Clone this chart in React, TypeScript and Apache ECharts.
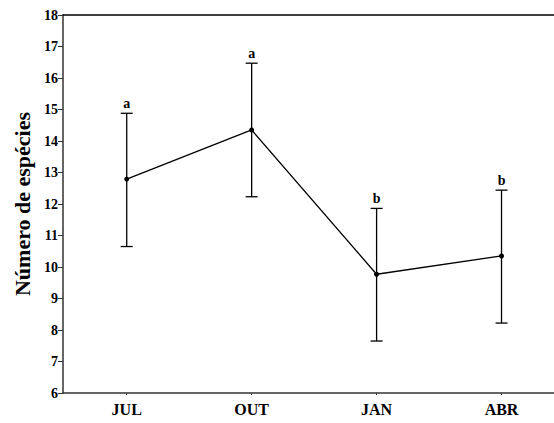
import React, { useEffect, useRef } from "react";
import * as echarts from "echarts";

const categories = ["JUL", "OUT", "JAN", "ABR"];
const means = [12.79, 14.35, 9.77, 10.35];
const upper = [14.88, 16.47, 11.86, 12.44];
const lower = [10.65, 12.23, 7.65, 8.22];
const letters = ["a", "a", "b", "b"];
const yTicks = [6, 7, 8, 9, 10, 11, 12, 13, 14, 15, 16, 17, 18];

const FONT = "'Liberation Serif', 'Times New Roman', serif";

export default function App() {
  const ref = useRef<HTMLDivElement>(null);
  useEffect(() => {
    if (!ref.current) return;
    const chart = echarts.init(ref.current, undefined, { renderer: "svg" });
    const xs = categories.map((_, i) => i + 1);
    const errData = xs.map((x, i) => [x, lower[i], upper[i], i]);
    chart.setOption({
      animation: false,
      grid: { left: 63, top: 15, right: 0, bottom: 30 },
      xAxis: [
        {
          type: "value",
          min: 0.49,
          max: 4.42,
          interval: 1,
          splitLine: { show: false },
          axisLine: { show: true, lineStyle: { color: "#333", width: 1.5 } },
          axisTick: { show: true, length: 2, lineStyle: { color: "#333" }, customValues: xs },
          axisLabel: {
            customValues: xs,
            formatter: (v: number) => categories[Math.round(v) - 1] ?? "",
            color: "#000",
            fontFamily: FONT,
            fontWeight: "bold",
            fontSize: 16,
            margin: 8,
          },
        },
        {
          type: "value",
          position: "top",
          min: 0.49,
          max: 4.42,
          splitLine: { show: false },
          axisLine: { show: true, onZero: false, lineStyle: { color: "#000", width: 1.5 } },
          axisTick: { show: false },
          axisLabel: { show: false },
        },
      ],
      yAxis: {
        type: "value",
        min: 6,
        max: 18,
        interval: 1,
        splitLine: { show: false },
        axisLine: { show: true, lineStyle: { color: "#333", width: 1.5 } },
        axisTick: { show: true, length: 5, lineStyle: { color: "#333" } },
        axisLabel: {
          color: "#000",
          fontFamily: FONT,
          fontWeight: "bold",
          fontSize: 14,
          margin: 5,
          formatter: (v: number) => (yTicks.includes(v) ? String(v) : ""),
        },
        name: "Número de espécies",
        nameLocation: "middle",
        nameGap: 30,
        nameTextStyle: { color: "#000", fontFamily: FONT, fontWeight: "bold", fontSize: 22 },
      },
      series: [
        {
          type: "custom",
          xAxisIndex: 0,
          data: errData,
          renderItem: (params: any, api: any) => {
            const x = api.value(0);
            const lo = api.coord([x, api.value(1)]);
            const hi = api.coord([x, api.value(2)]);
            const idx = api.value(3);
            const cap = 6;
            const style = { stroke: "#000", lineWidth: 1.3 };
            return {
              type: "group",
              children: [
                { type: "line", shape: { x1: hi[0], y1: hi[1], x2: lo[0], y2: lo[1] }, style },
                { type: "line", shape: { x1: hi[0] - cap, y1: hi[1], x2: hi[0] + cap, y2: hi[1] }, style },
                { type: "line", shape: { x1: lo[0] - cap, y1: lo[1], x2: lo[0] + cap, y2: lo[1] }, style },
                {
                  type: "text",
                  x: hi[0],
                  y: hi[1] - 3,
                  style: {
                    text: letters[idx],
                    fill: "#000",
                    font: `bold 14px ${FONT}`,
                    textAlign: "center",
                    textVerticalAlign: "bottom",
                  },
                },
              ],
            };
          },
        },
        {
          type: "line",
          xAxisIndex: 0,
          data: xs.map((x, i) => [x, means[i]]),
          symbol: "circle",
          symbolSize: 5,
          itemStyle: { color: "#000" },
          lineStyle: { color: "#000", width: 1.3 },
        },
      ],
    });
    return () => chart.dispose();
  }, []);
  return <div ref={ref} style={{ width: 554, height: 423, position: "absolute", left: 0, top: 0 }} />;
}
